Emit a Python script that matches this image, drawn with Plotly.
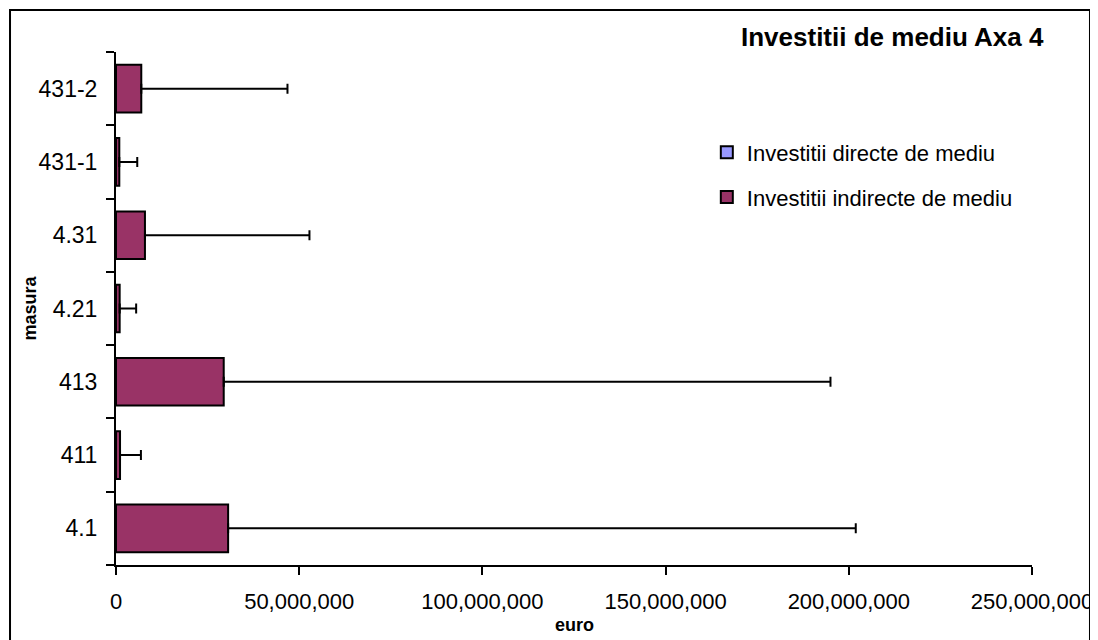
import plotly.graph_objects as go

# masura (bottom to top as drawn)
masura = ['4.1', '411', '413', '4.21', '4.31', '431-1', '431-2']

# euro
directe = [0, 0, 0, 0, 0, 0, 0]
indirecte = [30.6e6, 1.1e6, 29.4e6, 1.0e6, 7.9e6, 0.9e6, 6.9e6]
err_plus = [171.3e6, 5.7e6, 165.6e6, 4.5e6, 44.9e6, 4.9e6, 39.9e6]
err_minus = [0, 0, 0, 0, 0, 0, 0]

x_ticks = [0, 50e6, 100e6, 150e6, 200e6, 250e6]

FONT = 'Liberation Sans, Arial, sans-serif'

fig = go.Figure()

fig.add_trace(go.Bar(
    y=masura, x=directe, orientation='h',
    name='Investitii directe de mediu', legendgroup='a',
    marker=dict(color='#9999FF', line=dict(color='black', width=2)),
    width=0.65,
))

fig.add_trace(go.Bar(
    y=masura, x=indirecte, orientation='h',
    name='Investitii indirecte de mediu', legendgroup='b',
    marker=dict(color='#993366', line=dict(color='black', width=2)),
    width=0.65,
    error_x=dict(type='data', symmetric=False, array=err_plus, arrayminus=err_minus,
                 color='black', thickness=2, width=5),
))

# page body has an 8px margin, so the figure is sized to fit inside the window
fig.update_layout(
    width=1090, height=632,
    margin=dict(l=108, r=66, t=44, b=75),
    paper_bgcolor='white', plot_bgcolor='white',
    barmode='overlay',
    font=dict(family=FONT, color='black', size=21),
    showlegend=True,
    legend=dict(x=0.645, y=0.845, xanchor='left', yanchor='top',
                traceorder='grouped', tracegroupgap=13,
                font=dict(size=22), bgcolor='rgba(0,0,0,0)'),
    xaxis=dict(range=[0, 250e6], tickvals=x_ticks, tickformat=',d',
               showgrid=False, zeroline=False, automargin=False,
               showline=True, linecolor='black', linewidth=2,
               ticks='outside', ticklen=8, tickwidth=2, tickcolor='black',
               ticklabelstandoff=8, tickfont=dict(size=22)),
    yaxis=dict(type='category', showgrid=False, zeroline=False, automargin=False,
               showline=True, linecolor='black', linewidth=2,
               ticks='outside', tickson='boundaries', ticklen=8, tickwidth=2,
               tickcolor='black', ticklabelstandoff=12, tickfont=dict(size=23)),
    shapes=[dict(type='rect', xref='paper', yref='paper',
                 x0=-0.1157, x1=1.0633, y0=-0.17, y1=1.0819,
                 line=dict(color='black', width=2), fillcolor='rgba(0,0,0,0)',
                 layer='below')],
    annotations=[
        dict(text='<b>Investitii de mediu Axa 4</b>', xref='paper', yref='paper',
             x=(892 - 116) / 916, y=(565 - 37) / 513, xanchor='center', yanchor='middle',
             showarrow=False, font=dict(size=26)),
        dict(text='<b>masura</b>', xref='paper', yref='paper',
             x=(29 - 116) / 916, y=0.5, xanchor='center', yanchor='middle',
             textangle=-90, showarrow=False, font=dict(size=18)),
        dict(text='<b>euro</b>', xref='paper', yref='paper',
             x=0.5, y=(565 - 625) / 513, xanchor='center', yanchor='middle',
             showarrow=False, font=dict(size=18)),
    ],
)

fig.write_html('out.html')
